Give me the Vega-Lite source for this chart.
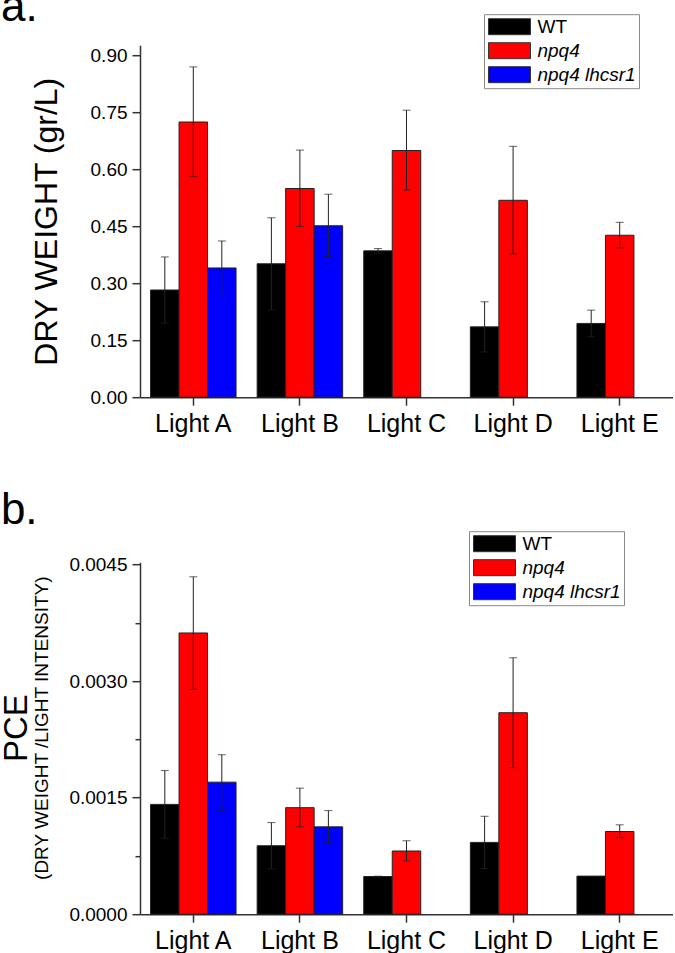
{
  "$schema": "https://vega.github.io/schema/vega-lite/v6.json",
  "padding": {"left": 0, "top": -13.8, "right": 0, "bottom": 0},
  "background": "white",
  "config": {
    "view": {"stroke": null},
    "font": "Liberation Sans",
    "axis": {"grid": false, "domainColor": "#333", "domainWidth": 1.5, "tickColor": "#333", "tickWidth": 1.5, "labelColor": "black", "titleColor": "black", "titleFontWeight": "normal"},
    "title": {"color": "black", "fontWeight": "normal"}
  },
  "spacing": 53,
  "resolve": {"scale": {"color": "independent", "y": "independent", "x": "independent", "xOffset": "independent"}, "legend": {"color": "independent"}},
  "vconcat": [
    {
      "width": 533,
      "height": 352,
      "title": {"text": "a.", "fontSize": 44, "anchor": "start", "dx": -29, "offset": 0, "dy": 16.7},
      "data": {"values": [
        {"light": "Light A", "strain": "WT", "value": 0.282, "lo": 0.195, "hi": 0.369},
        {"light": "Light A", "strain": "npq4", "value": 0.724, "lo": 0.580, "hi": 0.869},
        {"light": "Light A", "strain": "npq4 lhcsr1", "value": 0.340, "lo": 0.268, "hi": 0.411},
        {"light": "Light B", "strain": "WT", "value": 0.351, "lo": 0.230, "hi": 0.472},
        {"light": "Light B", "strain": "npq4", "value": 0.549, "lo": 0.449, "hi": 0.650},
        {"light": "Light B", "strain": "npq4 lhcsr1", "value": 0.451, "lo": 0.370, "hi": 0.534},
        {"light": "Light C", "strain": "WT", "value": 0.385, "lo": 0.379, "hi": 0.391},
        {"light": "Light C", "strain": "npq4", "value": 0.649, "lo": 0.545, "hi": 0.755},
        {"light": "Light D", "strain": "WT", "value": 0.185, "lo": 0.119, "hi": 0.251},
        {"light": "Light D", "strain": "npq4", "value": 0.518, "lo": 0.377, "hi": 0.660},
        {"light": "Light E", "strain": "WT", "value": 0.194, "lo": 0.159, "hi": 0.229},
        {"light": "Light E", "strain": "npq4", "value": 0.426, "lo": 0.393, "hi": 0.460}
      ]},
      "encoding": {
        "x": {"field": "light", "type": "nominal", "scale": {"paddingInner": 0, "paddingOuter": 0},
              "axis": {"title": null, "labelAngle": 0, "labelFontSize": 25, "tickSize": 8, "labelPadding": 6}},
        "xOffset": {"field": "strain", "type": "nominal", "scale": {"domain": ["WT", "npq4", "npq4 lhcsr1"], "paddingInner": 0, "paddingOuter": 0.37}}
      },
      "layer": [
        {
          "mark": {"type": "bar", "stroke": "#222", "strokeWidth": 1},
          "encoding": {
            "y": {"field": "value", "type": "quantitative", "scale": {"domain": [0, 0.926], "nice": false},
                  "axis": {"title": "DRY WEIGHT (gr/L)", "titleFontSize": 32, "titlePadding": 27,
                           "values": [0, 0.075, 0.15, 0.225, 0.3, 0.375, 0.45, 0.525, 0.6, 0.675, 0.75, 0.825, 0.9],
                           "labelExpr": "abs(datum.value/0.15 - round(datum.value/0.15)) < 0.01 ? format(datum.value, '.2f') : ''",
                           "labelFontSize": 19, "labelPadding": 5,
                           "tickSize": {"condition": {"test": "abs(datum.value/0.15 - round(datum.value/0.15)) < 0.01", "value": 8}, "value": 5}}},
            "color": {"field": "strain", "type": "nominal",
                      "scale": {"domain": ["WT", "npq4", "npq4 lhcsr1"], "range": ["#000000", "#ff0000", "#0000ff"]},
                      "legend": {"orient": "none", "legendX": 344, "legendY": -31, "title": null,
                                 "symbolType": "M-1,-1H4.25V1H-1Z", "symbolSize": 256, "labelFontSize": 19, "labelOffset": 31.5,
                                 "rowPadding": 3, "padding": 3, "strokeColor": "#888", "fillColor": "white",
                                 "symbolStrokeColor": "#333", "symbolStrokeWidth": 1, "labelColor": "black",
                                 "encode": {"labels": {"update": {"fontStyle": {"signal": "datum.label === 'WT' ? 'normal' : 'italic'"}}}}}}
          }
        },
        {
          "mark": {"type": "rule", "color": "#222", "strokeWidth": 1},
          "encoding": {"y": {"field": "lo", "type": "quantitative"}, "y2": {"field": "hi"}}
        },
        {
          "mark": {"type": "tick", "color": "#222", "thickness": 1, "size": 8},
          "encoding": {"y": {"field": "hi", "type": "quantitative"}}
        },
        {
          "mark": {"type": "tick", "color": "#222", "thickness": 1, "size": 8},
          "encoding": {"y": {"field": "lo", "type": "quantitative"}}
        }
      ]
    },
    {
      "title": {"text": "b.", "fontSize": 44, "anchor": "start", "offset": -2.7},
      "vconcat": [
        {
          "width": 533,
          "height": 352,
          "title": {"text": "PCE", "subtitle": "(DRY WEIGHT /LIGHT INTENSITY)", "orient": "left", "fontSize": 33, "subtitleFontSize": 19, "subtitleColor": "black", "subtitlePadding": -1, "offset": 17, "frame": "group", "dx": 10},
          "data": {"values": [
            {"light": "Light A", "strain": "WT", "value": 0.001413, "lo": 0.000978, "hi": 0.001848},
            {"light": "Light A", "strain": "npq4", "value": 0.003619, "lo": 0.002895, "hi": 0.004342},
            {"light": "Light A", "strain": "npq4 lhcsr1", "value": 0.001699, "lo": 0.001337, "hi": 0.002052},
            {"light": "Light B", "strain": "WT", "value": 0.000881, "lo": 0.000583, "hi": 0.001179},
            {"light": "Light B", "strain": "npq4", "value": 0.001371, "lo": 0.001124, "hi": 0.001622},
            {"light": "Light B", "strain": "npq4 lhcsr1", "value": 0.001124, "lo": 0.000924, "hi": 0.001333},
            {"light": "Light C", "strain": "WT", "value": 0.000485, "lo": 0.000481, "hi": 0.000489},
            {"light": "Light C", "strain": "npq4", "value": 0.000813, "lo": 0.000685, "hi": 0.000945},
            {"light": "Light D", "strain": "WT", "value": 0.000924, "lo": 0.000588, "hi": 0.001260},
            {"light": "Light D", "strain": "npq4", "value": 0.002593, "lo": 0.001886, "hi": 0.003300},
            {"light": "Light E", "strain": "WT", "value": 0.000490},
            {"light": "Light E", "strain": "npq4", "value": 0.001064, "lo": 0.000983, "hi": 0.001150}
          ]},
          "encoding": {
            "x": {"field": "light", "type": "nominal", "scale": {"paddingInner": 0, "paddingOuter": 0},
                  "axis": {"title": null, "labelAngle": 0, "labelFontSize": 25, "tickSize": 8, "labelPadding": 6}},
            "xOffset": {"field": "strain", "type": "nominal", "scale": {"domain": ["WT", "npq4", "npq4 lhcsr1"], "paddingInner": 0, "paddingOuter": 0.37}}
          },
          "layer": [
            {
              "mark": {"type": "bar", "stroke": "#222", "strokeWidth": 1},
              "encoding": {
                "y": {"field": "value", "type": "quantitative", "scale": {"domain": [0, 0.00453], "nice": false},
                      "axis": {"title": null,
                               "values": [0, 0.00075, 0.0015, 0.00225, 0.003, 0.00375, 0.0045],
                               "labelExpr": "abs(datum.value/0.0015 - round(datum.value/0.0015)) < 0.01 ? format(datum.value, '.4f') : ''",
                               "labelFontSize": 19, "labelPadding": 5,
                               "tickSize": {"condition": {"test": "abs(datum.value/0.0015 - round(datum.value/0.0015)) < 0.01", "value": 8}, "value": 5}}},
                "color": {"field": "strain", "type": "nominal",
                          "scale": {"domain": ["WT", "npq4", "npq4 lhcsr1"], "range": ["#000000", "#ff0000", "#0000ff"]},
                          "legend": {"orient": "none", "legendX": 329, "legendY": -31, "title": null,
                                     "symbolType": "M-1,-1H4.25V1H-1Z", "symbolSize": 256, "labelFontSize": 19, "labelOffset": 31.5,
                                     "rowPadding": 3, "padding": 3, "strokeColor": "#888", "fillColor": "white",
                                     "symbolStrokeColor": "#333", "symbolStrokeWidth": 1, "labelColor": "black",
                                     "encode": {"labels": {"update": {"fontStyle": {"signal": "datum.label === 'WT' ? 'normal' : 'italic'"}}}}}}
              }
            },
            {
              "mark": {"type": "rule", "color": "#222", "strokeWidth": 1},
              "encoding": {"y": {"field": "lo", "type": "quantitative"}, "y2": {"field": "hi"}}
            },
            {
              "mark": {"type": "tick", "color": "#222", "thickness": 1, "size": 8},
              "encoding": {"y": {"field": "hi", "type": "quantitative"}}
            },
            {
              "mark": {"type": "tick", "color": "#222", "thickness": 1, "size": 8},
              "encoding": {"y": {"field": "lo", "type": "quantitative"}}
            }
          ]
        }
      ]
    }
  ]
}
